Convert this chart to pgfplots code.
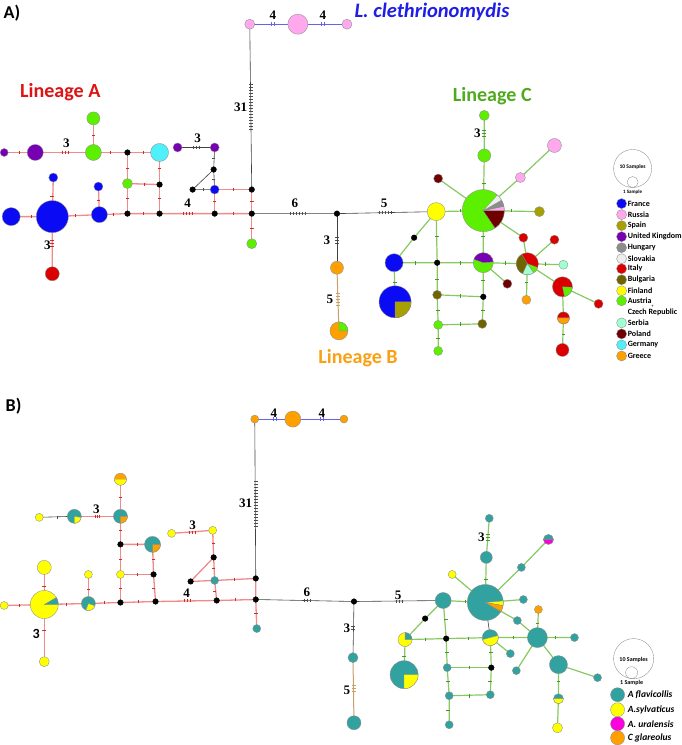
\documentclass[border=0pt]{standalone}
\usepackage{pgfplots}
\pgfplotsset{compat=1.18}
\usepackage{fontspec}
\setmainfont{Carlito}
\newfontfamily\serifb{Liberation Serif}
\definecolor{cFr}{RGB}{10,10,245}
\definecolor{cRu}{RGB}{255,168,238}
\definecolor{cEs}{RGB}{168,160,0}
\definecolor{cUK}{RGB}{118,0,178}
\definecolor{cHu}{RGB}{140,140,140}
\definecolor{cSk}{RGB}{238,238,238}
\definecolor{cIt}{RGB}{218,0,0}
\definecolor{cBg}{RGB}{112,100,0}
\definecolor{cFi}{RGB}{255,255,0}
\definecolor{cAt}{RGB}{92,240,0}
\definecolor{cRs}{RGB}{160,255,210}
\definecolor{cPl}{RGB}{112,0,0}
\definecolor{cDe}{RGB}{80,240,250}
\definecolor{cGr}{RGB}{255,160,0}
\definecolor{cTe}{RGB}{50,162,160}
\definecolor{cMa}{RGB}{250,0,220}
\definecolor{eR}{RGB}{238,140,140}
\definecolor{eRd}{RGB}{215,40,40}
\definecolor{eG}{RGB}{135,200,95}
\definecolor{eGd}{RGB}{70,150,40}
\definecolor{eB}{RGB}{100,100,235}
\definecolor{eT}{RGB}{200,160,105}
\definecolor{tA}{RGB}{222,20,20}
\definecolor{tC}{RGB}{80,170,30}
\definecolor{tB}{RGB}{250,160,20}
\definecolor{tL}{RGB}{30,30,230}
\pgfdeclareplotmark{nothing}{}
\pgfplotsset{
 circ/.style={only marks, scatter, mark=nothing,
   visualization depends on={\thisrow{r}\as\rr},
   scatter/@pre marker code/.code={\path[fill=#1, draw=black!45, line width=0.35pt] (0,0) circle[radius=\rr pt];},
   scatter/@post marker code/.code={}},
 wedge/.style={only marks, scatter, mark=nothing,
   visualization depends on={\thisrow{r}\as\rr},
   visualization depends on={\thisrow{a}\as\wa},
   visualization depends on={\thisrow{b}\as\wb},
   scatter/@pre marker code/.code={\path[fill=#1, draw=black!45, line width=0.3pt] (0,0) -- (\wa:\rr pt) arc[start angle=\wa, end angle=\wb, radius=\rr pt] -- cycle;},
   scatter/@post marker code/.code={}},
 eRed/.style={eR, line width=1.3pt, mark=none},
 eGrn/.style={eG, line width=1.2pt, mark=none},
 eBlk/.style={black!75, line width=0.6pt, mark=none},
 eBlu/.style={eB, line width=1.0pt, mark=none},
 eTan/.style={eT, line width=1.0pt, mark=none},
 th/.style={only marks, mark=|, mark size=1.8pt, #1, mark options={line width=0.5pt}},
 tv/.style={only marks, mark=-, mark size=1.8pt, #1, mark options={line width=0.5pt}},
 blk/.style={only marks, mark=*, mark size=2.8pt, black},
}
\begin{document}
\begin{tikzpicture}
\begin{axis}[width=685pt, height=745pt, scale only axis,
  xmin=0, xmax=685, ymin=0, ymax=745, y dir=reverse,
  axis lines=none, clip=false]
%% ================= PANEL A edges
\addplot[eBlu] coordinates {(250,24) (298,24) (347,24)};
\addplot[eBlk] coordinates {(250,24) (252,189)};
\addplot[eRed] coordinates {(5,152) (36,152) (94,152) (128,152) (160,152)};
\addplot[eRed] coordinates {(94,118) (94,152)};
\addplot[eRed] coordinates {(128,152) (128,213)};
\addplot[eRed] coordinates {(128,183) (160,184)};
\addplot[eRed] coordinates {(160,152) (160,213)};
\addplot[eRed] coordinates {(12,216) (53,216) (100,214) (128,213) (160,213) (215,213) (252,213)};
\addplot[eRed] coordinates {(54,177) (53,216) (53,273)};
\addplot[eRed] coordinates {(99,186) (100,214)};
\addplot[eRed] coordinates {(215,189) (215,213)};
\addplot[eRed] coordinates {(215,189) (252,189) (252,213) (252,243)};
\addplot[eBlk] coordinates {(178,147) (215,147) (214,169) (215,189)};
\addplot[eBlk] coordinates {(214,169) (193,189) (215,189)};
\addplot[eBlk] coordinates {(252,213) (337,213) (436,211)};
\addplot[eBlk] coordinates {(337,213) (337,267)};
\addplot[eTan] coordinates {(337,267) (339,330)};
\addplot[eGrn] coordinates {(484,115) (484,155) (483,210)};
\addplot[eGrn] coordinates {(554,145) (520,177) (483,210)};
\addplot[eGrn] coordinates {(438,178) (483,210)};
\addplot[eGrn] coordinates {(436,211) (483,210) (539,211)};
\addplot[eGrn] coordinates {(483,210) (523,237) (527,263)};
\addplot[eGrn] coordinates {(554,239) (527,263) (563,264)};
\addplot[eGrn] coordinates {(527,263) (526,299)};
\addplot[eGrn] coordinates {(527,263) (562,286) (598,303)};
\addplot[eGrn] coordinates {(562,286) (563,317) (562,349)};
\addplot[eGrn] coordinates {(483,210) (483,262) (507,283)};
\addplot[eGrn] coordinates {(436,211) (414,237) (394,262)};
\addplot[eGrn] coordinates {(436,211) (437,262) (437,294) (438,324) (438,350)};
\addplot[eGrn] coordinates {(394,262) (437,262) (483,262) (527,263)};
\addplot[eGrn] coordinates {(394,262) (395,301)};
\addplot[eGrn] coordinates {(483,262) (483,296) (482,323)};
\addplot[eGrn] coordinates {(437,294) (483,296)};
\addplot[eGrn] coordinates {(438,324) (482,323)};
%% ticks A
\addplot[th=eB] coordinates {(271,24) (274,24) (321,24) (324,24)};
\addplot[tv=black!70] coordinates {(251,84) (251,87) (251,90) (251,93) (251,96) (251,99) (251,102) (251,105) (251,108) (251,111) (251,114) (251,117) (251,120) (251,123) (251,126) (251,129)};
\addplot[th=eRd] coordinates {(20,152) (63,152) (66,152) (69,152) (111,152) (144,152) (32,216) (76,215) (114,214) (144,213) (184,213) (187,213) (190,213) (193,213) (234,213) (234,189) (145,184)};
\addplot[tv=eRd] coordinates {(94,135) (128,168) (128,198) (160,168) (160,198) (53,196) (53,240) (53,243) (53,246) (252,201) (252,228) (215,201) (99,200)};
\addplot[th=black!70] coordinates {(194,147) (197,147) (200,147) (290,213) (293,213) (296,213) (299,213) (302,213) (305,213) (379,212) (382,212) (385,212) (388,212) (391,212) (204,189)};
\addplot[tv=black!70] coordinates {(337,237) (337,240) (337,243) (214,179) (214,158)};
\addplot[tv=eT] coordinates {(338,292) (338,295) (338,298) (338,301) (338,304)};
\addplot[tv=eGd] coordinates {(484,130) (484,133) (484,136) (484,183) (483,236) (437,236) (437,278) (438,309) (438,337) (395,281) (483,279) (483,309) (563,333) (526,281)};
\addplot[th=eGd] coordinates {(415,262) (460,262) (505,262) (545,263) (460,210) (511,210) (460,295) (460,323)};
%% nodes A
\addplot[circ=cFr] table[row sep=\\] {x y r\\ 12 216 9\\ 53 216 16\\ 100 214 8\\ 54 177 4.5\\ 99 186 4.5\\ 215 189 4.5\\ 394 262 9\\ 395 301 16\\};
\addplot[circ=cRu] table[row sep=\\] {x y r\\ 250 24 5\\ 298 24 10\\ 347 24 5\\ 554 145 7\\ 520 177 5\\};
\addplot[circ=cEs] table[row sep=\\] {x y r\\ 539 211 5\\};
\addplot[circ=cUK] table[row sep=\\] {x y r\\ 5 152 4\\ 36 152 8\\ 178 147 4.5\\ 215 147 4.5\\};
\addplot[circ=cIt] table[row sep=\\] {x y r\\ 53 273 7\\ 523 237 4.5\\ 554 239 4.5\\ 598 303 4.5\\ 562 349 6.5\\ 527 263 11\\ 562 286 10\\ 563 317 6\\};
\addplot[circ=cBg] table[row sep=\\] {x y r\\ 437 294 4.5\\ 482 323 4.5\\};
\addplot[circ=cFi] table[row sep=\\] {x y r\\ 436 211 9\\};
\addplot[circ=cAt] table[row sep=\\] {x y r\\ 94 118 6.5\\ 94 152 8\\ 128 183 5\\ 252 243 5\\ 484 115 5\\ 484 155 6.5\\ 438 324 4.5\\ 438 350 4.5\\ 483 210 21\\ 483 262 10\\};
\addplot[circ=cRs] table[row sep=\\] {x y r\\ 563 264 4.5\\};
\addplot[circ=cPl] table[row sep=\\] {x y r\\ 438 178 4.5\\ 507 283 4.5\\};
\addplot[circ=cDe] table[row sep=\\] {x y r\\ 160 152 9\\};
\addplot[circ=cGr] table[row sep=\\] {x y r\\ 337 267 6.5\\ 526 299 4.5\\ 339 330 9\\};
%% wedges A
\addplot[wedge=cAt] table[row sep=\\] {x y r a b\\ 339 330 9 0 90\\ 527 263 11 305 340\\ 562 286 10 -78 -3\\};
\addplot[wedge=cPl] table[row sep=\\] {x y r a b\\ 483 210 21 -56 0\\};
\addplot[wedge=cRu] table[row sep=\\] {x y r a b\\ 483 210 21 0 12\\};
\addplot[wedge=cHu] table[row sep=\\] {x y r a b\\ 483 210 21 12 30\\};
\addplot[wedge=cSk] table[row sep=\\] {x y r a b\\ 483 210 21 30 48\\};
\addplot[wedge=cUK] table[row sep=\\] {x y r a b\\ 483 262 10 5 160\\};
\addplot[wedge=cBg] table[row sep=\\] {x y r a b\\ 527 263 11 120 245\\};
\addplot[wedge=cRs] table[row sep=\\] {x y r a b\\ 527 263 11 245 305\\};
\addplot[wedge=cGr] table[row sep=\\] {x y r a b\\ 563 317 6 180 360\\};
\addplot[wedge=cEs] table[row sep=\\] {x y r a b\\ 395 301 16 -90 0\\};
\addplot[blk] coordinates {(128,152) (128,213) (160,184) (160,213) (215,213) (252,213) (252,189) (214,169) (193,189) (337,213) (414,237) (437,262) (483,296)};
%% legend A
\addplot[circ=none] table[row sep=\\] {x y r\\ 632 168 19\\ 632 181.5 5.5\\};
\addplot[circ=cFr] table[row sep=\\] {x y r\\ 621 203 5\\};
\addplot[circ=cRu] table[row sep=\\] {x y r\\ 621 214 5\\};
\addplot[circ=cEs] table[row sep=\\] {x y r\\ 621 225 5\\};
\addplot[circ=cUK] table[row sep=\\] {x y r\\ 621 236 5\\};
\addplot[circ=cHu] table[row sep=\\] {x y r\\ 621 247 5\\};
\addplot[circ=cSk] table[row sep=\\] {x y r\\ 621 258 5\\};
\addplot[circ=cIt] table[row sep=\\] {x y r\\ 621 268 5\\};
\addplot[circ=cBg] table[row sep=\\] {x y r\\ 621 279 5\\};
\addplot[circ=cFi] table[row sep=\\] {x y r\\ 621 290 5\\};
\addplot[circ=cAt] table[row sep=\\] {x y r\\ 621 300 5\\};
\addplot[circ=cRs] table[row sep=\\] {x y r\\ 621 322 5\\};
\addplot[circ=cPl] table[row sep=\\] {x y r\\ 621 333 5\\};
\addplot[circ=cDe] table[row sep=\\] {x y r\\ 621 344 5\\};
\addplot[circ=cGr] table[row sep=\\] {x y r\\ 621 355 5\\};
%% ================= PANEL B edges
\addplot[eBlu] coordinates {(255,418) (293,418) (344,418)};
\addplot[eBlk] coordinates {(255,418) (256,577)};
\addplot[eBlk] coordinates {(256,598) (354,600) (443,599)};
\addplot[eBlk] coordinates {(354,600) (353,656)};
\addplot[eTan] coordinates {(353,656) (354,721)};
\addplot[eBlk] coordinates {(40,516) (75,515)};
\addplot[eRed] coordinates {(75,515) (121,515)};
\addplot[eRed] coordinates {(121,478) (121,515) (121,543) (121,573) (121,601)};
\addplot[eRed] coordinates {(121,543) (153,543) (154,573) (156,600)};
\addplot[eRed] coordinates {(121,573) (154,573)};
\addplot[eRed] coordinates {(172,532) (213,529) (214,556) (215,579) (217,599)};
\addplot[eRed] coordinates {(214,556) (191,580) (215,579) (256,577) (256,598) (257,627)};
\addplot[eRed] coordinates {(5,604) (45,603) (89,602) (121,601) (156,600) (217,599) (256,598)};
\addplot[eRed] coordinates {(45,566) (45,603) (45,660)};
\addplot[eRed] coordinates {(89,573) (89,602)};
\addplot[eGrn] coordinates {(489,517) (486,556) (485,601)};
\addplot[eGrn] coordinates {(548,538) (521,566) (485,601)};
\addplot[eGrn] coordinates {(452,573) (485,601)};
\addplot[eGrn] coordinates {(443,599) (485,601) (523,598)};
\addplot[eGrn] coordinates {(485,601) (517,619) (537,636)};
\addplot[eGrn] coordinates {(538,608) (537,636) (574,636)};
\addplot[eGrn] coordinates {(537,636) (516,669)};
\addplot[eGrn] coordinates {(537,636) (558,663) (597,676)};
\addplot[eGrn] coordinates {(558,663) (558,697) (557,726)};
\addplot[eBlk] coordinates {(485,601) (490,636)};
\addplot[eGrn] coordinates {(443,599) (425,617) (405,638) (404,673)};
\addplot[eGrn] coordinates {(443,599) (446,637) (447,666) (449,694) (449,723)};
\addplot[eGrn] coordinates {(405,638) (446,637) (490,636) (537,636)};
\addplot[eGrn] coordinates {(490,636) (510,652)};
\addplot[eGrn] coordinates {(490,636) (491,666) (490,693)};
\addplot[eGrn] coordinates {(447,666) (491,666)};
\addplot[eGrn] coordinates {(449,694) (490,693)};
%% ticks B
\addplot[th=eB] coordinates {(273,418) (276,418) (320,418) (323,418)};
\addplot[tv=black!70] coordinates {(256,480) (256,483) (256,486) (256,489) (256,492) (256,495) (256,498) (256,501) (256,504) (256,507) (256,510) (256,513) (256,516) (256,519) (256,522) (256,525)};
\addplot[th=eRd] coordinates {(20,604) (67,603) (105,601) (139,600) (185,599) (188,599) (191,599) (236,598) (235,578) (138,543) (138,573) (96,515) (98,515) (100,515)};
\addplot[tv=eRd] coordinates {(121,496) (121,529) (121,558) (121,587) (154,558) (154,587) (214,542) (214,567) (215,590) (256,612) (45,585) (45,629) (89,588)};
\addplot[th=eRd] coordinates {(190,531) (193,531) (196,531)};
\addplot[th=black!70] coordinates {(58,516) (304,599) (307,599) (310,599) (396,600) (399,600) (402,600)};
\addplot[tv=black!70] coordinates {(353,625) (353,628)};
\addplot[tv=eT] coordinates {(354,684) (354,687) (354,690)};
\addplot[tv=eGd] coordinates {(488,533) (488,536) (488,539) (486,578) (446,618) (447,651) (448,680) (448,708) (404,655) (491,651) (490,680) (537,622) (558,680)};
\addplot[th=eGd] coordinates {(465,600) (425,638) (468,637) (513,636) (555,636) (469,666) (469,694)};
%% nodes B
\addplot[circ=cTe] table[row sep=\\] {x y r\\ 257 627 4\\ 215 579 4\\ 353 656 5\\ 354 721 7\\ 443 599 8\\ 489 517 4\\ 486 556 6\\ 521 566 4\\ 523 598 4\\ 517 619 4\\ 537 636 10\\ 574 636 4\\ 510 652 4\\ 516 669 4\\ 558 663 9\\ 597 676 4\\ 447 666 4\\ 449 694 4\\ 490 693 4\\ 449 723 4\\ 75 515 7\\ 121 515 7\\ 153 543 8\\ 89 602 7\\ 485 601 18\\ 490 636 8\\ 404 673 14\\ 548 538 5\\ 558 697 5\\};
\addplot[circ=cFi] table[row sep=\\] {x y r\\ 40 516 4\\ 172 532 4\\ 213 529 4\\ 121 573 4\\ 45 566 7\\ 89 573 4\\ 5 604 4\\ 45 660 5\\ 452 573 4\\ 557 726 5\\ 45 603 14\\ 405 638 7\\};
\addplot[circ=cGr] table[row sep=\\] {x y r\\ 255 418 4\\ 293 418 8\\ 344 418 4\\ 538 608 4\\ 121 478 6\\};
%% wedges B
\addplot[wedge=cFi] table[row sep=\\] {x y r a b\\ 121 478 6 180 360\\ 75 515 7 -90 -10\\ 89 602 7 -110 -20\\ 485 601 18 -10 5\\ 490 636 8 -165 15\\ 404 673 14 -90 0\\ 558 697 5 180 360\\};
\addplot[wedge=cGr] table[row sep=\\] {x y r a b\\ 121 515 7 -90 0\\ 153 543 8 -90 0\\ 485 601 18 -30 -10\\};
\addplot[wedge=cTe] table[row sep=\\] {x y r a b\\ 45 603 14 0 30\\ 405 638 7 0 90\\};
\addplot[wedge=cMa] table[row sep=\\] {x y r a b\\ 548 538 5 180 360\\};
\addplot[blk] coordinates {(121,543) (154,573) (214,556) (191,580) (256,577) (256,598) (121,601) (156,600) (217,599) (354,600) (425,617) (446,637) (491,666)};
%% legend B
\addplot[circ=none] table[row sep=\\] {x y r\\ 633 657 20\\ 631 671 6\\};
\addplot[circ=cTe] table[row sep=\\] {x y r\\ 617 693 7\\};
\addplot[circ=cFi] table[row sep=\\] {x y r\\ 617 708 7\\};
\addplot[circ=cMa] table[row sep=\\] {x y r\\ 617 722 7\\};
\addplot[circ=cGr] table[row sep=\\] {x y r\\ 617 736 7\\};
%% ================= texts
\node[font=\fontsize{18}{18}\selectfont\bfseries, anchor=west] at (axis cs:1,13) {A)};
\node[font=\fontsize{18}{18}\selectfont\bfseries, anchor=west] at (axis cs:3,405) {B)};
\node[font=\fontsize{20}{20}\selectfont\bfseries, text=tA] at (axis cs:61,92) {Lineage A};
\node[font=\fontsize{20}{20}\selectfont\bfseries, text=tC] at (axis cs:492,96) {Lineage C};
\node[font=\fontsize{20}{20}\selectfont\bfseries, text=tB] at (axis cs:358,357) {Lineage B};
\node[font=\fontsize{20.5}{20}\selectfont\bfseries\itshape, text=tL, anchor=west] at (axis cs:351,12) {L. clethrionomydis};
\begin{scope}[every node/.style={font=\fontsize{13}{13}\selectfont\serifb\bfseries, inner sep=0pt}]
\node at (axis cs:273,15) {4};
\node at (axis cs:323,15) {4};
\node at (axis cs:241,107) {31};
\node at (axis cs:67,143) {3};
\node at (axis cs:198,138) {3};
\node at (axis cs:188,203) {4};
\node at (axis cs:295,203) {6};
\node at (axis cs:384,203) {5};
\node at (axis cs:48,245) {3};
\node at (axis cs:327,240) {3};
\node at (axis cs:330,298) {5};
\node at (axis cs:477,133) {3};
\node at (axis cs:274,412) {4};
\node at (axis cs:322,412) {4};
\node at (axis cs:246,502) {31};
\node at (axis cs:97,508) {3};
\node at (axis cs:193,524) {3};
\node at (axis cs:187,592) {4};
\node at (axis cs:307,591) {6};
\node at (axis cs:398,594) {5};
\node at (axis cs:347,627) {3};
\node at (axis cs:347,689) {5};
\node at (axis cs:481,536) {3};
\end{scope}
\node[font=\fontsize{14}{14}\selectfont\bfseries, inner sep=0pt] at (axis cs:37,632) {3};
% legend A text
\begin{scope}[every node/.style={font=\fontsize{8}{8}\selectfont\bfseries, anchor=west, inner sep=0pt}]
\node at (axis cs:627,203) {France};
\node at (axis cs:627,214) {Russia};
\node at (axis cs:627,225) {Spain};
\node at (axis cs:627,236) {United Kingdom};
\node at (axis cs:627,247) {Hungary};
\node at (axis cs:627,258) {Slovakia};
\node at (axis cs:627,268) {Italy};
\node at (axis cs:627,279) {Bulgaria};
\node at (axis cs:627,290) {Finland};
\node at (axis cs:627,300) {Austria};
\node at (axis cs:627,311.5) {Czech Republic};
\node at (axis cs:627,322) {Serbia};
\node at (axis cs:627,333) {Poland};
\node at (axis cs:627,344) {Germany};
\node at (axis cs:627,355) {Greece};
\end{scope}
\node[font=\fontsize{4}{4}\selectfont\bfseries, inner sep=0pt] at (axis cs:652,305.8) {+};
\node[font=\fontsize{5.5}{6}\selectfont\bfseries, inner sep=0pt] at (axis cs:632,166) {10 Samples};
\node[font=\fontsize{5}{6}\selectfont\bfseries, inner sep=0pt] at (axis cs:632,192) {1 Sample};
\node[font=\fontsize{6}{6}\selectfont\bfseries, inner sep=0pt] at (axis cs:633,658) {10 Samples};
\node[font=\fontsize{6}{6}\selectfont\bfseries, inner sep=0pt] at (axis cs:631,681) {1 Sample};
\begin{scope}[every node/.style={font=\fontsize{9.5}{10}\selectfont\bfseries\itshape, anchor=west, inner sep=0pt}]
\node at (axis cs:627,693) {A flavicollis};
\node at (axis cs:627,708) {A.sylvaticus};
\node at (axis cs:627,722) {A. uralensis};
\node at (axis cs:627,736) {C glareolus};
\end{scope}
\end{axis}
\end{tikzpicture}
\end{document}
